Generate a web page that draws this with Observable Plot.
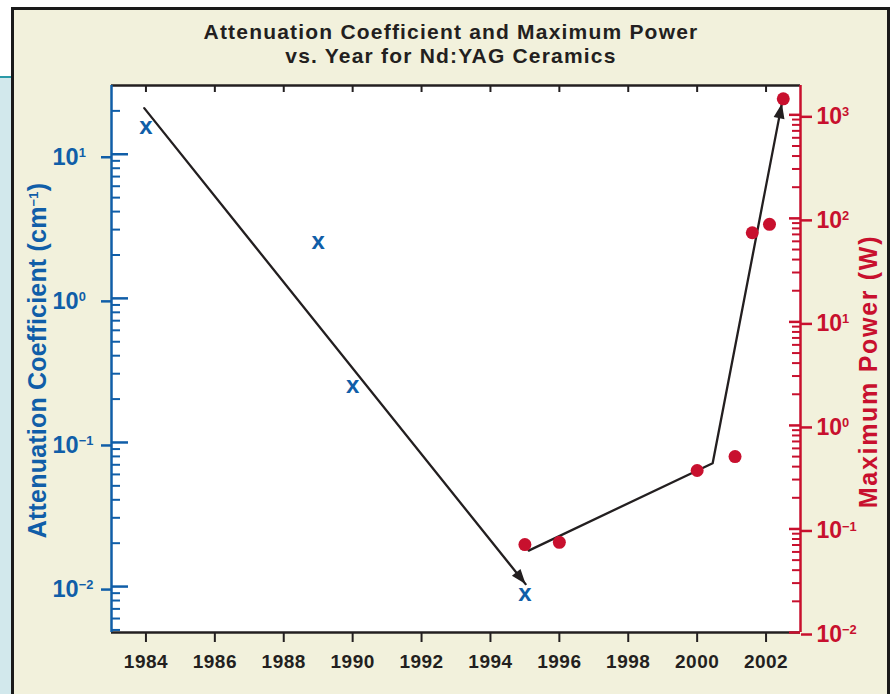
<!DOCTYPE html>
<html><head><meta charset="utf-8">
<script src="https://cdn.jsdelivr.net/npm/d3@7"></script>
<script src="https://cdn.jsdelivr.net/npm/@observablehq/plot@0.6"></script>
<style>
html,body{margin:0;padding:0;background:#fff;}
#stage{position:relative;width:891px;height:694px;overflow:hidden;font-family:"Liberation Sans",Arial,sans-serif;}
#strip{position:absolute;left:0;top:75.5px;width:12px;height:640px;background:#d2e8ec;border-top:2px solid #2b9aa8;}
#panel{position:absolute;left:11px;top:7px;width:873px;height:720px;background:#f2f1dc;border:3px solid #1a1a1a;}
.title{position:absolute;left:11px;width:880px;text-align:center;font-weight:bold;font-size:21px;line-height:24px;height:24px;color:#231f20;letter-spacing:1.2px;white-space:nowrap;}
.plot{position:absolute;left:0;top:0;}
</style>
</head><body>
<div id="stage">
  <div id="strip"></div>
  <div id="panel"></div>
  <div class="title" style="top:19.7px">Attenuation Coefficient and Maximum Power</div>
  <div class="title" style="top:44.2px">vs. Year for Nd:YAG Ceramics</div>
</div>
<script>
// ---- data ----
const attenYears = [1984, 1989, 1990, 1995];
const attenValues = [15.4, 2.45, 0.245, 0.00886];          // cm^-1
const powerYears = [1995, 1996, 2000, 2001.1, 2001.6, 2002.1, 2002.5];
const powerValues = [0.0707, 0.0743, 0.367, 0.50, 72.6, 87.5, 1429]; // W
const attenTrendYears = [1983.95, 1995.02];
const attenTrendValues = [20.9, 0.0104];
const powerTrendYears = [1995.11, 2000.45, 2002.46];
const powerTrendValues = [0.0618, 0.432, 1290];
const xTickYears = [1984, 1986, 1988, 1990, 1992, 1994, 1996, 1998, 2000, 2002];
const attenMajorTicks = [0.01, 0.1, 1, 10];
const powerMajorTicks = [0.01, 0.1, 1, 10, 100, 1000];
const yearDomain = [1983, 2003];
const attenDomain = [0.0048, 30];
const powerDomain = [0.01, 1920];
const titleLeft = "Attenuation Coefficient (cm^−1^)";
const titleRight = "Maximum Power (W)";

const BLUE = "#105ea8", RED = "#c8102e", BLACK = "#231f20";
const W = 891, H = 694, MT = 85, MR = 91, MB = 62, ML = 111;
const innerW = W - ML - MR, innerH = H - MT - MB;

function minors(dom) {
  const out = [];
  for (let e = -4; e <= 4; e++) for (let m = 2; m <= 9; m++) {
    const v = +(m * Math.pow(10, e)).toPrecision(6);
    if (v > dom[0] * 1.001 && v < dom[1] * 0.999) out.push(v);
  }
  return out;
}
const supFmt = d => { const e = Math.round(Math.log10(d)); return "10^" + (e < 0 ? "−" + (-e) : String(e)) + "^"; };

const attenData = attenYears.map((y, i) => ({year: y, v: attenValues[i]}));
const powerData = powerYears.map((y, i) => ({year: y, v: powerValues[i]}));
const attenTrend = attenTrendYears.map((y, i) => ({year: y, v: attenTrendValues[i]}));
const powerTrend = powerTrendYears.map((y, i) => ({year: y, v: powerTrendValues[i]}));

const common = {width: W, height: H, marginTop: MT, marginRight: MR, marginBottom: MB, marginLeft: ML,
  style: {background: "transparent", overflow: "visible", fontFamily: "'Liberation Sans', Arial, sans-serif"}};

const p1 = Plot.plot({
  ...common,
  x: {domain: yearDomain},
  y: {type: "log", domain: attenDomain},
  marks: [
    Plot.frame({fill: "white", stroke: null}),
    Plot.ruleX(xTickYears, {x: d => d, stroke: BLACK, strokeWidth: 2, insetBottom: innerH - 7}),
    Plot.axisX(xTickYears, {tickFormat: d => String(d), tickSize: 10, tickPadding: 12, fontSize: 19, fontWeight: "bold", color: BLACK, strokeWidth: 2, label: null}),
    Plot.ruleY([attenDomain[1]], {y: d => d, stroke: BLACK, strokeWidth: 2.5}),
    Plot.ruleY([attenDomain[0]], {y: d => d, stroke: BLACK, strokeWidth: 2.5}),
    Plot.ruleY(minors(attenDomain), {y: d => d, stroke: BLUE, strokeWidth: 2, insetRight: innerW - 9}),
    Plot.ruleY(attenMajorTicks, {y: d => d, stroke: BLUE, strokeWidth: 2.5, insetRight: innerW - 17}),
    Plot.axisY(attenMajorTicks, {tickFormat: supFmt, tickSize: 10, tickPadding: 49, textAnchor: "start", fontSize: 23.5, fontWeight: "bold", color: BLUE, strokeWidth: 2.5, label: null, dy: 3}),
    Plot.ruleX([yearDomain[0]], {x: d => d, stroke: BLUE, strokeWidth: 2.5}),
    Plot.line(attenTrend, {x: "year", y: "v", stroke: BLACK, strokeWidth: 2.3}),
    Plot.text(attenData, {x: "year", y: "v", text: () => "x", fill: BLUE, fontSize: 24, fontWeight: "bold", dy: -1}),
    Plot.text([titleLeft], {frameAnchor: "left", textAnchor: "middle", text: d => d, rotate: -90, dx: -74, dy: 1.5, fill: BLUE, fontSize: 25, fontWeight: "bold"})
  ]
});

const p2 = Plot.plot({
  ...common,
  x: {domain: yearDomain, axis: null},
  y: {type: "log", domain: powerDomain, axis: null},
  marks: [
    Plot.ruleX([yearDomain[1]], {x: d => d, stroke: RED, strokeWidth: 2.5}),
    Plot.ruleY(minors(powerDomain), {y: d => d, stroke: RED, strokeWidth: 2, insetLeft: innerW - 8}),
    Plot.ruleY(powerMajorTicks, {y: d => d, stroke: RED, strokeWidth: 2.5, insetLeft: innerW - 11}),
    Plot.axisY(powerMajorTicks, {anchor: "right", tickFormat: supFmt, tickSize: 11, tickPadding: 5, fontSize: 23, fontWeight: "bold", color: RED, strokeWidth: 2.5, label: null, dy: 2}),
    Plot.line(powerTrend, {x: "year", y: "v", stroke: BLACK, strokeWidth: 2.3}),
    Plot.dot(powerData, {x: "year", y: "v", r: 6.5, fill: RED, stroke: null}),
    Plot.text([titleRight], {frameAnchor: "right", textAnchor: "middle", text: d => d, rotate: -90, dx: 68, dy: 12.5, fill: RED, fontSize: 25, fontWeight: "bold"})
  ]
});

function finish(svg, markerId) {
  const s = d3.select(svg).attr("class", "plot");
  const defs = s.append("defs");
  defs.append("marker").attr("id", markerId).attr("viewBox", "-16 -7 18 14")
    .attr("markerUnits", "userSpaceOnUse").attr("markerWidth", 18).attr("markerHeight", 14)
    .attr("refX", 0).attr("refY", 0).attr("orient", "auto")
    .append("path").attr("d", "M-15,-5.5L0,0L-15,5.5Z").attr("fill", BLACK);
  s.selectAll('g[aria-label="line"] path').attr("marker-end", `url(#${markerId})`);
  s.selectAll("text").each(function() {
    const t = d3.select(this);
    const txt = this.textContent;
    if (/^\d{4}$/.test(txt)) t.style("letter-spacing", "0.5px");
    if (txt.startsWith("Attenuation")) t.style("letter-spacing", "0.2px");
    if (txt.startsWith("Maximum")) t.style("letter-spacing", "1.7px");
    if (!txt.includes("^")) return;
    const fs = parseFloat(getComputedStyle(this).fontSize) || 23;
    const rise = 0.34 * fs, ss = 0.56 * fs;
    const parts = txt.split("^");
    this.textContent = "";
    parts.forEach((p, i) => {
      if (!p) return;
      const ts = t.append("tspan").text(p);
      if (i % 2) ts.attr("font-size", ss).attr("dy", -rise);
      else if (i > 0) ts.attr("dy", rise);
    });
  });
  document.getElementById("stage").appendChild(svg);
}
finish(p1, "ahA");
finish(p2, "ahP");
</script>
</body></html>
